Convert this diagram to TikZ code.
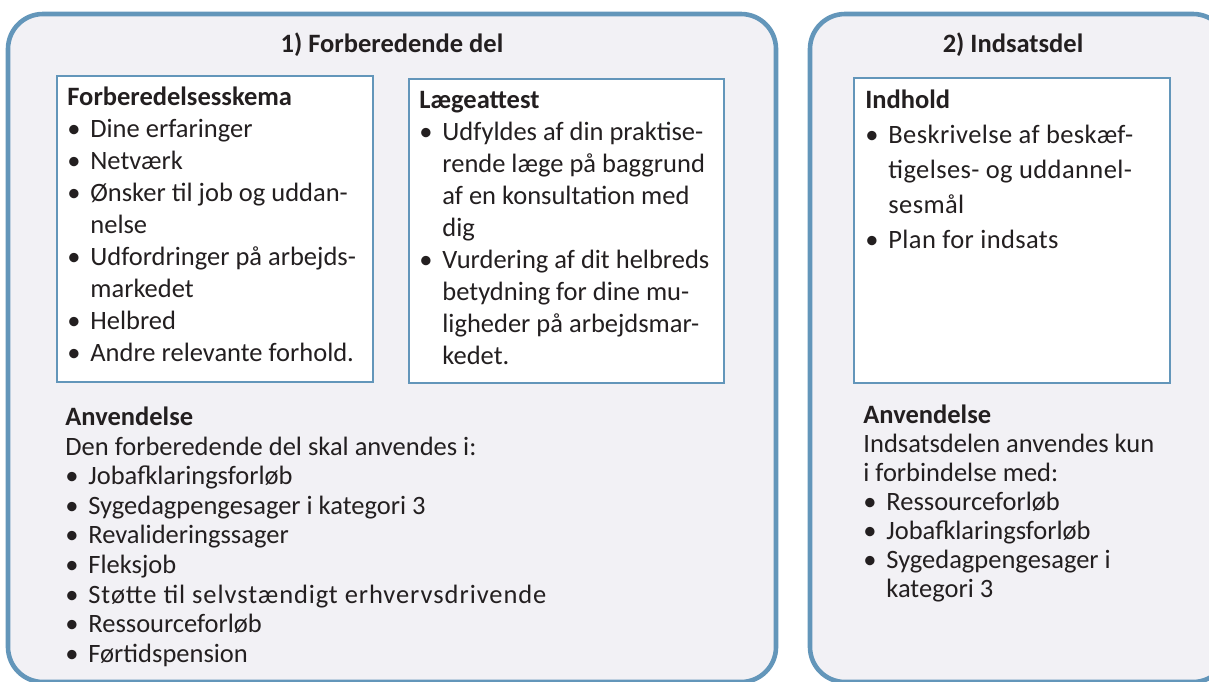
\documentclass[tikz,border=0pt]{standalone}
\usepackage{fontspec}
\setmainfont{Carlito}
\usepackage{tikz}
\usetikzlibrary{positioning}
\definecolor{frame color}{RGB}{99,150,186}
\definecolor{panel color}{RGB}{242,241,245}
\definecolor{ink color}{RGB}{35,31,32}
\tikzset{panel/.style={draw=frame color, fill=panel color, line width=2.3pt, rounded corners=17.5pt}}
\tikzset{infobox/.style={draw=frame color, fill=white, line width=1.1pt}}
\tikzset{listtext/.style={anchor=north west, align=left, inner sep=0pt, text=ink color}}
\tikzset{paneltitle/.style={anchor=base, inner sep=0pt, text=ink color, font=\fontsize{13.25}{16}\selectfont\bfseries}}
\newcommand{\itm}[1]{\makebox[11.5pt][l]{\textbullet}#1}
\newcommand{\cnt}[1]{\hspace*{11.5pt}#1}
\newcommand{\topline}{\rule{0pt}{11pt}}

\begin{document}
\begin{tikzpicture}[x=0.5pt, y=-0.5pt]
                \useasboundingbox (0, 0) rectangle (1209, 681);
                \clip (0, 0) rectangle (1209, 681);
                
                % the two panels
                \draw[panel] (8, 14) rectangle (776, 682);
                \draw[panel] (810, 14) rectangle (1228, 682);
                
                \node[paneltitle] (title1) at (392, 52) {1) Forberedende del};
                \node[paneltitle] (title2) at (1013, 52) {2) Indsatsdel};
                
                % white boxes
                \draw[infobox] (57, 76) rectangle (373, 382);
                \draw[infobox] (409, 79) rectangle (724, 383);
                \draw[infobox] (854, 78) rectangle (1170, 383);
                
                % text rows, first baseline 22 below the node top
                \node[listtext, font=\fontsize{13.25}{16}\selectfont] (skema) at (67, 83) {%
                    \topline\textbf{Forberedelsesskema}\\
                    \itm{Dine erfaringer}\\
                    \itm{Netværk}\\
                    \itm{Ønsker til job og uddan-}\\
                    \cnt{nelse}\\
                    \itm{Udfordringer på arbejds-}\\
                    \cnt{markedet}\\
                    \itm{Helbred}\\
                    \itm{Andre relevante forhold.}};
                
                \node[listtext, font=\fontsize{13.25}{16}\selectfont] (laege) at (419, 86) {%
                    \topline\textbf{Lægeattest}\\
                    \itm{Udfyldes af din praktise-}\\
                    \cnt{rende læge på baggrund}\\
                    \cnt{af en konsultation med}\\
                    \cnt{dig}\\
                    \itm{Vurdering af dit helbreds}\\
                    \cnt{betydning for dine mu-}\\
                    \cnt{ligheder på arbejdsmar-}\\
                    \cnt{kedet.}};
                
                \node[listtext, font=\fontsize{13.25}{17.5}\selectfont] (indhold) at (865, 86) {%
                    \topline\textbf{Indhold}\\
                    \itm{{\addfontfeature{LetterSpace=1.5}Beskrivelse af beskæf-}}\\
                    \cnt{{\addfontfeature{LetterSpace=1.5}tigelses- og uddannel-}}\\
                    \cnt{{\addfontfeature{LetterSpace=1.5}sesmål}}\\
                    \itm{{\addfontfeature{LetterSpace=1.5}Plan for indsats}}};
                
                \node[listtext, font=\fontsize{13.25}{14.8}\selectfont] (brug1) at (65, 403) {%
                    \topline\textbf{Anvendelse}\\
                    Den forberedende del skal anvendes i:\\
                    \itm{Jobafklaringsforløb}\\
                    \itm{Sygedagpengesager i kategori 3}\\
                    \itm{Revalideringssager}\\
                    \itm{Fleksjob}\\
                    \itm{{\addfontfeature{LetterSpace=3.5}Støtte til selvstændigt erhvervsdrivende}}\\
                    \itm{Ressourceforløb}\\
                    \itm{Førtidspension}};
                
                \node[listtext, font=\fontsize{13.25}{14.5}\selectfont] (brug2) at (863, 401) {%
                    \topline\textbf{Anvendelse}\\
                    Indsatsdelen anvendes kun\\
                    i forbindelse med:\\
                    \itm{Ressourceforløb}\\
                    \itm{Jobafklaringsforløb}\\
                    \itm{Sygedagpengesager i}\\
                    \cnt{kategori 3}};
\end{tikzpicture}
\end{document}
